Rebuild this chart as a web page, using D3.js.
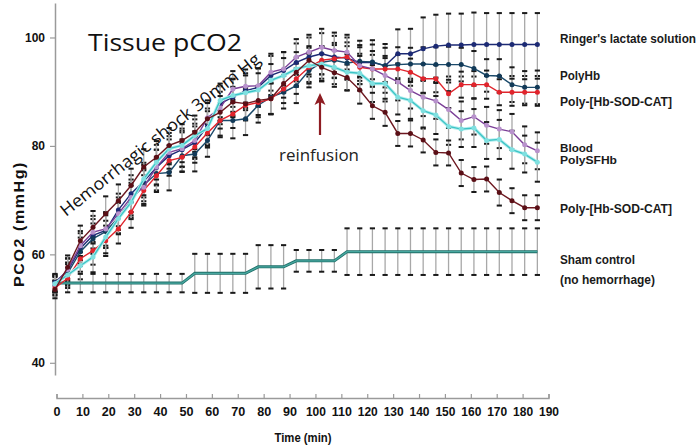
<!DOCTYPE html>
<html>
<head>
<meta charset="utf-8">
<script src="https://cdn.jsdelivr.net/npm/d3@7"></script>
<style>
  body { margin: 0; background: #fff; }
  svg text { font-family: "Liberation Sans", Arial, sans-serif; }
</style>
</head>
<body>
<div id="chart"></div>
<script>
// sampling times (min)
var minutes = [-0.6, 4.3, 9.2, 14.1, 19.0, 23.9, 28.8, 33.7, 38.6, 43.5, 48.5, 53.4, 58.3, 63.2, 68.1, 73.0, 77.9, 82.8, 87.7, 92.6, 97.5, 102.4, 107.3, 112.2, 117.1, 122.0, 126.9, 131.8, 136.7, 141.6, 146.5, 151.4, 156.3, 161.2, 166.1, 171.0, 175.9, 180.8, 185.7]

var ringer = [54.8, 57.0, 61.1, 63.5, 64.4, 68.2, 71.2, 73.5, 76.0, 78.2, 79.3, 80.6, 83.6, 87.8, 89.0, 90.2, 90.8, 93.0, 93.9, 95.4, 96.4, 97.0, 96.4, 96.2, 95.4, 95.4, 94.8, 97.0, 97.0, 97.9, 98.4, 98.6, 98.6, 98.7, 98.7, 98.7, 98.7, 98.7, 98.7]
var polyHb = [54.2, 56.5, 60.5, 62.9, 64.2, 66.8, 70.0, 72.8, 74.9, 75.1, 78.2, 78.5, 81.0, 84.7, 84.7, 85.0, 87.5, 89.0, 89.9, 91.1, 93.9, 95.4, 95.8, 95.3, 95.6, 95.5, 94.8, 95.0, 95.1, 95.1, 95.0, 95.0, 95.0, 94.3, 93.0, 92.9, 91.3, 90.8, 90.8]
var polySodRed = [53.8, 55.6, 59.2, 60.7, 62.5, 64.7, 67.8, 71.8, 74.5, 77.3, 77.9, 79.8, 82.4, 84.7, 85.9, 87.5, 88.0, 88.7, 90.5, 92.4, 94.5, 95.8, 96.1, 96.4, 94.5, 94.2, 94.2, 94.2, 93.6, 92.4, 92.4, 89.6, 91.3, 91.3, 91.3, 89.9, 89.9, 89.9, 89.9]
var blood = [54.5, 57.2, 61.6, 64.1, 64.7, 67.5, 70.5, 72.4, 76.1, 78.8, 79.5, 81.0, 85.2, 87.0, 90.5, 91.0, 91.1, 93.6, 94.2, 96.4, 97.3, 98.2, 97.6, 97.3, 94.8, 94.2, 93.0, 91.8, 90.2, 89.0, 88.3, 86.7, 84.7, 85.4, 83.8, 83.1, 82.6, 80.2, 79.1]
var polySFHb = [54.6, 56.2, 57.9, 59.5, 63.2, 66.6, 69.6, 73.9, 77.0, 79.5, 80.1, 81.9, 83.2, 88.4, 89.3, 89.8, 90.3, 92.1, 93.0, 94.2, 94.8, 95.1, 94.5, 93.6, 93.4, 91.5, 91.5, 89.0, 88.4, 86.5, 85.7, 83.6, 83.1, 83.3, 81.0, 81.2, 79.3, 78.5, 77.0]
var polySodDark = [53.5, 57.6, 62.5, 65.0, 67.5, 69.9, 72.7, 76.1, 77.9, 80.1, 81.0, 82.5, 85.0, 86.2, 88.1, 87.8, 88.4, 88.7, 91.5, 93.6, 95.8, 94.5, 93.5, 92.6, 90.3, 87.4, 86.2, 82.3, 82.3, 81.1, 78.8, 78.7, 75.0, 73.8, 73.9, 71.4, 69.9, 68.6, 68.6]
var sham = [54.7, 54.7, 54.7, 54.7, 54.7, 54.7, 54.7, 54.7, 54.7, 54.7, 54.7, 56.5, 56.5, 56.5, 56.5, 56.5, 57.7, 57.7, 57.7, 58.8, 58.8, 58.8, 58.8, 60.5, 60.5, 60.5, 60.5, 60.5, 60.5, 60.5, 60.5, 60.5, 60.5, 60.5, 60.5, 60.5, 60.5, 60.5, 60.5]

// error bar half-lengths
var errRinger = [1.5, 2.2, 2.8, 3.0, 3.2, 3.0, 3.4, 3.0, 3.3, 3.0, 3.2, 3.0, 3.3, 3.2, 3.4, 3.2, 3.5, 3.6, 3.4, 3.5, 3.6, 3.8, 3.9, 3.8, 4.0, 4.1, 4.0, 4.5, 4.6, 5.8, 5.8, 5.8, 5.8, 5.9, 5.8, 5.8, 5.8, 5.8, 5.8]
var errPolyHb = [1.6, 2.0, 2.6, 2.8, 3.0, 2.9, 3.2, 3.0, 3.1, 3.3, 3.0, 3.2, 3.0, 3.1, 3.3, 3.0, 3.2, 3.1, 3.0, 3.2, 3.1, 3.0, 3.2, 3.1, 3.0, 3.2, 3.3, 3.2, 3.0, 3.1, 3.2, 3.3, 3.1, 3.2, 3.0, 3.1, 3.2, 3.0, 3.1]
var errSodRed = [1.4, 1.8, 2.4, 2.6, 2.8, 2.7, 2.9, 2.8, 3.0, 2.8, 2.6, 2.9, 2.7, 2.8, 2.6, 2.8, 2.7, 2.9, 2.6, 2.8, 2.7, 2.6, 2.5, 2.7, 2.5, 2.6, 2.4, 2.6, 2.5, 2.7, 2.5, 2.6, 2.4, 2.5, 2.6, 2.4, 2.5, 2.4, 2.5]
var errBlood = [1.5, 2.1, 2.7, 3.0, 3.1, 3.0, 3.3, 3.1, 3.2, 3.0, 3.3, 3.1, 3.2, 3.0, 3.3, 3.1, 3.2, 3.4, 3.1, 3.3, 3.2, 3.4, 3.3, 3.2, 3.4, 3.3, 3.2, 3.4, 3.3, 3.5, 3.3, 3.4, 3.5, 3.3, 3.4, 3.5, 3.3, 3.4, 3.4]
var errSFHb = [1.5, 2.0, 2.5, 2.8, 3.0, 2.9, 3.1, 3.0, 3.2, 2.9, 3.1, 3.0, 3.2, 3.1, 3.0, 3.2, 3.1, 3.0, 3.2, 3.1, 3.3, 3.2, 3.1, 3.3, 3.2, 3.4, 3.3, 3.2, 3.4, 3.3, 3.5, 3.4, 3.3, 3.5, 3.4, 3.6, 3.5, 3.4, 3.6]
var errSodDark = [1.6, 2.2, 2.8, 3.0, 3.2, 3.0, 3.1, 3.3, 3.0, 3.2, 3.0, 3.1, 2.9, 3.0, 2.8, 2.9, 2.7, 2.8, 2.6, 2.7, 2.6, 2.5, 2.6, 2.4, 2.5, 2.4, 2.5, 2.3, 2.4, 2.3, 2.4, 2.3, 2.4, 2.3, 2.3, 2.4, 2.3, 2.3, 2.3]
var errSham = [1.7, 1.7, 1.7, 1.7, 1.7, 1.7, 1.7, 1.7, 1.7, 1.7, 1.7, 3.6, 3.6, 3.6, 3.6, 3.6, 4.0, 4.0, 4.0, 2.0, 2.0, 2.0, 2.0, 4.3, 4.3, 4.3, 4.3, 4.3, 4.3, 4.3, 4.3, 4.3, 4.3, 4.3, 4.3, 4.3, 4.3, 4.3, 4.3]

var xTicks = [0, 10, 20, 30, 40, 50, 60, 70, 80, 90, 100, 110, 120, 130, 140, 150, 160, 170, 180, 190]
var yTicks = [40, 60, 80, 100]

var series = [
  {name: "ringer", values: ringer, err: errRinger, color: "#1c2a74", dot: "#1c2a74"},
  {name: "polyhb", values: polyHb, err: errPolyHb, color: "#1b4a6b", dot: "#123a58"},
  {name: "sodred", values: polySodRed, err: errSodRed, color: "#e0242c", dot: "#e0242c"},
  {name: "blood", values: blood, err: errBlood, color: "#7b3f97", dot: "#b892cc"},
  {name: "sfhb", values: polySFHb, err: errSFHb, color: "#3cc4c6", dot: "#7fe0e0"},
  {name: "soddark", values: polySodDark, err: errSodDark, color: "#6d1820", dot: "#5a0f16"}
]

var width = 700, height = 446
var svg = d3.select("#chart").append("svg")
    .attr("width", width)
    .attr("height", height)

var x = d3.scaleLinear().domain([0, 190]).range([56.5, 548.5])
var y = d3.scaleLinear().domain([37.75, 106.36]).range([375, 3])

// y axis
var yAxis = svg.append("g")
    .attr("transform", "translate(55,0)")
    .call(d3.axisLeft(y).tickValues(yTicks).tickSize(5).tickSizeOuter(0).tickPadding(5))
yAxis.select(".domain").attr("stroke", "#9a9a9a").attr("stroke-width", 1.5)
yAxis.selectAll(".tick line").attr("stroke", "#9a9a9a").attr("stroke-width", 1.2)
yAxis.selectAll(".tick text").attr("font-size", 12).attr("font-weight", "bold").attr("fill", "#111")

// x axis
var xAxis = svg.append("g")
    .attr("transform", "translate(0,398)")
    .call(d3.axisBottom(x).tickValues(xTicks).tickSize(-4).tickSizeOuter(-4).tickPadding(9))
xAxis.select(".domain").attr("stroke", "#9a9a9a").attr("stroke-width", 1.5)
xAxis.selectAll(".tick line").attr("stroke", "#9a9a9a").attr("stroke-width", 1.2)
xAxis.selectAll(".tick text").attr("font-size", 12).attr("font-weight", "bold").attr("fill", "#111")
  .attr("textLength", function (d) { return d >= 100 ? 20 : (d === 0 ? 7 : 14) })
  .attr("lengthAdjust", "spacingAndGlyphs")

svg.append("text")
    .attr("x", 303).attr("y", 442)
    .attr("text-anchor", "middle")
    .attr("font-size", 12.5).attr("font-weight", "bold").attr("fill", "#111")
    .attr("textLength", 57).attr("lengthAdjust", "spacingAndGlyphs")
    .text("Time (min)")

svg.append("text")
    .attr("transform", "translate(24,224) rotate(-90)")
    .attr("text-anchor", "middle")
    .attr("font-size", 15).attr("font-weight", "bold").attr("fill", "#111")
    .attr("letter-spacing", 1.5)
    .attr("textLength", 126).attr("lengthAdjust", "spacingAndGlyphs")
    .text("PCO2 (mmHg)")

// error bars (grey stems, black caps)
var all = series.concat([{name: "sham", values: sham, err: errSham}])
all.forEach(function (s) {
  var g = svg.append("g").attr("class", "err-" + s.name)
  minutes.forEach(function (t, i) {
    var cx = x(t)
    g.append("line")
        .attr("x1", cx).attr("x2", cx)
        .attr("y1", y(s.values[i] + s.err[i])).attr("y2", y(s.values[i] - s.err[i]))
        .attr("stroke", "#a8a8a8").attr("stroke-width", 1.3)
    ;[s.values[i] + s.err[i], s.values[i] - s.err[i]].forEach(function (v) {
      g.append("line")
          .attr("x1", cx - 2.6).attr("x2", cx + 2.6)
          .attr("y1", y(v)).attr("y2", y(v))
          .attr("stroke", "#1a1a1a").attr("stroke-width", 2)
    })
  })
})

var line = d3.line()
    .x(function (d) { return x(d[0]) })
    .y(function (d) { return y(d[1]) })

// sham control
var shamPts = minutes.map(function (t, i) { return [t, sham[i]] })
svg.append("path").datum(shamPts)
    .attr("d", line).attr("fill", "none")
    .attr("stroke", "#1f6f69").attr("stroke-width", 3)
svg.append("path").datum(shamPts)
    .attr("d", line).attr("fill", "none")
    .attr("stroke", "#48a8a0").attr("stroke-width", 1.4)

// main series
series.forEach(function (s) {
  var pts = minutes.map(function (t, i) { return [t, s.values[i]] })
  if (s.name === "sfhb") {
    svg.append("path").datum(pts)
        .attr("d", line).attr("fill", "none")
        .attr("stroke", "#b4eeee").attr("stroke-width", 3.2)
  }
  svg.append("path").datum(pts)
      .attr("d", line).attr("fill", "none")
      .attr("stroke", s.color).attr("stroke-width", 1.4)
  svg.append("g").selectAll("circle")
      .data(pts).enter().append("circle")
      .attr("cx", function (d) { return x(d[0]) })
      .attr("cy", function (d) { return y(d[1]) })
      .attr("r", 2.5)
      .attr("fill", s.dot)
})

// annotations
svg.append("text")
    .attr("x", 88).attr("y", 51)
    .attr("font-size", 23).attr("fill", "#111")
    .attr("textLength", 154).attr("lengthAdjust", "spacingAndGlyphs")
    .style("font-family", "'Open Sans', 'Noto Sans', sans-serif")
    .text("Tissue pCO2")

svg.append("text")
    .attr("transform", "translate(66,217) rotate(-38.5)")
    .attr("font-size", 17).attr("fill", "#111")
    .attr("textLength", 250).attr("lengthAdjust", "spacingAndGlyphs")
    .style("font-family", "'Open Sans', 'Noto Sans', sans-serif")
    .text("Hemorrhagic shock 30mm Hg")

svg.append("text")
    .attr("x", 279).attr("y", 161)
    .attr("font-size", 17).attr("fill", "#222")
    .attr("textLength", 80).attr("lengthAdjust", "spacingAndGlyphs")
    .style("font-family", "'Open Sans', 'Noto Sans', sans-serif")
    .text("reinfusion")

svg.append("line")
    .attr("x1", 320).attr("x2", 320).attr("y1", 135).attr("y2", 102)
    .attr("stroke", "#8e1c22").attr("stroke-width", 2.2)
svg.append("path")
    .attr("d", "M320,93 L314.5,105 L320,102 L325.5,105 Z")
    .attr("fill", "#8e1c22")

// right-hand labels: text, baseline, width in the picture, size
var labels = [
  ["Ringer's lactate solution", 43, 136, 12],
  ["PolyHb", 80, 40, 12],
  ["Poly-[Hb-SOD-CAT]", 106, 112, 12],
  ["Blood", 151.5, 33, 11],
  ["PolySFHb", 164, 57, 11],
  ["Poly-[Hb-SOD-CAT]", 213, 112, 12],
  ["Sham control", 264, 75, 12],
  ["(no hemorrhage)", 284, 95, 12]
]
svg.append("g").selectAll("text")
    .data(labels).enter().append("text")
    .attr("x", 560)
    .attr("y", function (d) { return d[1] })
    .attr("font-size", function (d) { return d[3] })
    .attr("font-weight", "bold").attr("fill", "#1a1a1a")
    .attr("textLength", function (d) { return d[2] })
    .attr("lengthAdjust", "spacingAndGlyphs")
    .text(function (d) { return d[0] })
</script>
</body>
</html>
